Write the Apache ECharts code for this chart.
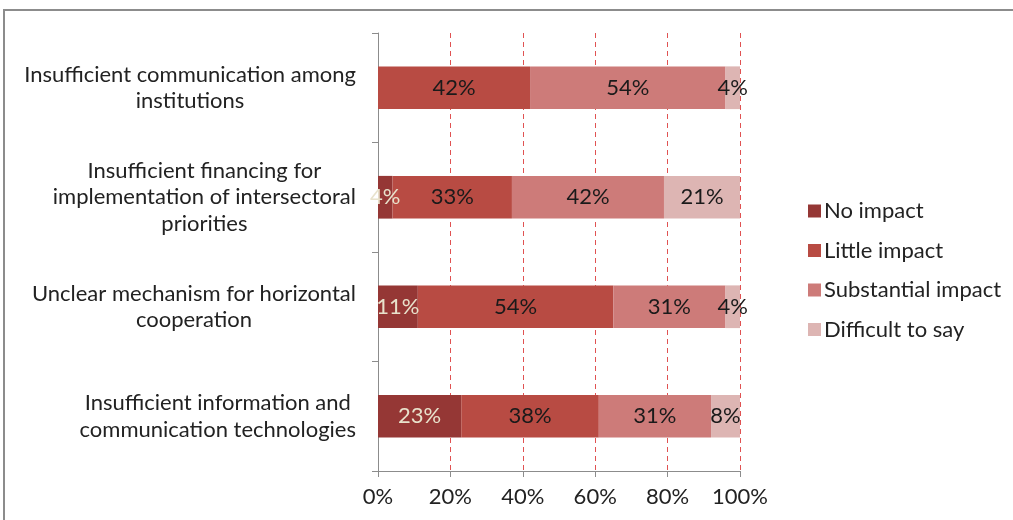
<!DOCTYPE html>
<html><head><meta charset="utf-8">
<script src="https://cdn.jsdelivr.net/npm/echarts@6/dist/echarts.min.js"></script>
<style>html,body{margin:0;padding:0;background:#fff}#c{width:1013px;height:520px}</style>
</head><body><div id="c"></div>
<script>
const categories = [
  "Insufficient communication among\ninstitutions",
  "Insufficient financing for\nimplementation of intersectoral\npriorities",
  "Unclear mechanism for horizontal\ncooperation",
  "Insufficient information and\ncommunication technologies"
];
const seriesNames = ["No impact", "Little impact", "Substantial impact", "Difficult to say"];
const noImpact = [0, 4, 11, 23];
const littleImpact = [42, 33, 54, 38];
const substantialImpact = [54, 42, 31, 31];
const difficultToSay = [4, 21, 4, 8];
const xTicks = [0, 20, 40, 60, 80, 100];

const colors = ["#953735", "#B84B43", "#CD7B79", "#DDB5B3"];
const labelColors = ["#E8E2CC", "#1a1a1a", "#1a1a1a", "#1a1a1a"];
const values = [noImpact, littleImpact, substantialImpact, difficultToSay];
const FONT = "Lato";
const FS = 22;

const chart = echarts.init(document.getElementById('c'), null, {renderer: 'canvas'});
chart.setOption({
  animation: false,
  textStyle: {fontFamily: FONT},
  graphic: [{
    type: 'rect', silent: true, z: -1,
    shape: {x: 4, y: 10, width: 1200, height: 700},
    style: {fill: 'none', stroke: '#8c8c8c', lineWidth: 2}
  }],
  grid: {left: 378, right: 273, top: 33, bottom: 49, containLabel: false},
  legend: {
    orient: 'vertical', left: 803, top: 195,
    itemWidth: 13, itemHeight: 13, itemGap: 17.5,
    icon: 'rect',
    textStyle: {fontFamily: FONT, fontSize: FS, color: '#222', lineHeight: 22, padding: [0, 0, 0, -2]},
    data: seriesNames
  },
  xAxis: {
    type: 'value', min: xTicks[0], max: xTicks[xTicks.length - 1], interval: 20,
    axisLine: {show: true, lineStyle: {color: '#8c8c8c', width: 1}},
    axisTick: {show: true, length: 6, lineStyle: {color: '#8c8c8c'}},
    axisLabel: {formatter: '{value}%', fontFamily: FONT, fontSize: FS, color: '#222', margin: 15},
    splitLine: {show: true, lineStyle: {color: '#E05252', type: [5, 4], width: 1}}
  },
  yAxis: {
    type: 'category', inverse: true, data: categories,
    axisLine: {show: true, lineStyle: {color: '#8c8c8c', width: 1}},
    axisTick: {show: true, length: 6, lineStyle: {color: '#8c8c8c'}},
    splitLine: {show: false},
    axisLabel: {
      margin: 22, align: 'right',
      formatter: function (v) { return v.split('\n').map(s => '{a|' + s + '}').join('\n'); },
      rich: {a: {align: 'center', fontFamily: FONT, fontSize: FS, color: '#222', lineHeight: 26.5}}
    }
  },
  series: seriesNames.map((name, i) => ({
    name: name, type: 'bar', stack: 'total', barWidth: '39%',
    data: values[i],
    itemStyle: {color: colors[i]},
    label: {
      show: true, position: 'inside',
      fontFamily: FONT, fontSize: FS, color: labelColors[i],
      formatter: p => p.value > 0 ? p.value + '%' : ''
    }
  }))
});
</script></body></html>
